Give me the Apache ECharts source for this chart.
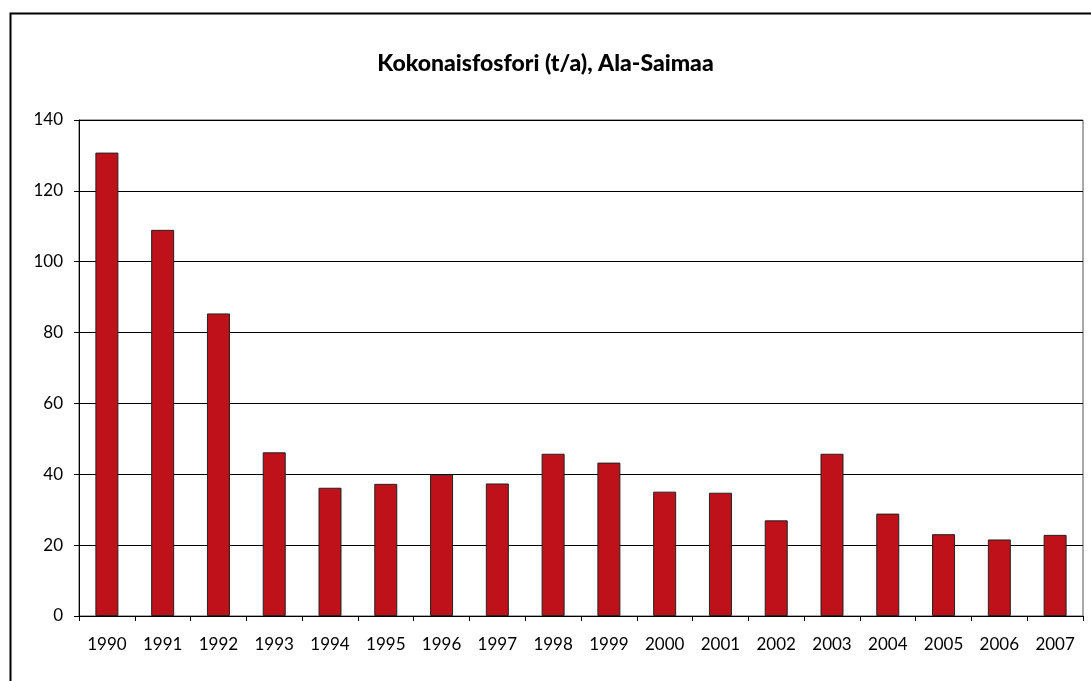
<!DOCTYPE html>
<html>
<head>
<meta charset="utf-8">
<script src="https://cdn.jsdelivr.net/npm/echarts@6/dist/echarts.min.js"></script>
<style>
html,body{margin:0;padding:0;background:#fff;}
#c{width:1091px;height:681px;}
</style>
</head>
<body>
<div id="c"></div>
<script>
const titleText = 'Kokonaisfosfori (t/a), Ala-Saimaa';
const years = ['1990','1991','1992','1993','1994','1995','1996','1997','1998','1999','2000','2001','2002','2003','2004','2005','2006','2007'];
const phosphorus = [130.8,109.0,85.4,46.2,36.2,37.3,39.9,37.4,45.8,43.3,35.1,34.8,27.0,45.8,28.9,23.1,21.6,22.9];
const yTicks = [0,20,40,60,80,100,120,140];

const chart = echarts.init(document.getElementById('c'), null, {renderer:'canvas'});
const font = 'Lato, "Open Sans", sans-serif';
chart.setOption({
  animation:false,
  backgroundColor:'#fff',
  title:{
    text:titleText,
    left:'center', top:47,
    textStyle:{fontFamily:font,fontWeight:900,fontSize:23,color:'#000'}
  },
  graphic:[{
    type:'rect', left:8, top:11, z:-1,
    shape:{width:1100,height:700},
    style:{fill:'none',stroke:'#000',lineWidth:2}
  }],
  grid:{left:79,right:8,top:120,bottom:65,show:true,borderColor:'#555',borderWidth:1},
  xAxis:{
    type:'category', data:years, boundaryGap:true,
    axisLine:{lineStyle:{color:'#000',width:1}},
    axisTick:{show:true,length:5,lineStyle:{color:'#000'},alignWithLabel:false},
    axisLabel:{fontFamily:font,fontSize:17,color:'#000',margin:20,interval:0}
  },
  yAxis:{
    type:'value', min:yTicks[0], max:yTicks[yTicks.length-1], interval:20,
    axisLine:{show:true,lineStyle:{color:'#000',width:1}},
    axisTick:{show:true,length:5,lineStyle:{color:'#000'}},
    axisLabel:{fontFamily:font,fontSize:17,color:'#000',margin:16},
    splitLine:{show:true,lineStyle:{color:'#000',width:1}}
  },
  series:[{
    type:'bar', data:phosphorus, barWidth:23,
    itemStyle:{color:'#BE1119',borderColor:'#222',borderWidth:1}
  }]
});
</script>
</body>
</html>
